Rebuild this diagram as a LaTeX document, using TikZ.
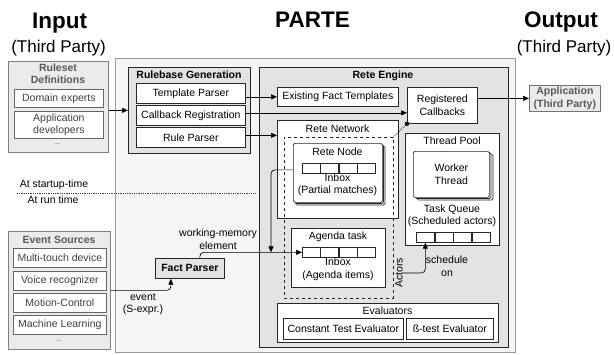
\documentclass[tikz,border=0pt]{standalone}
\usepackage{fontspec}
\setmainfont{Liberation Sans}
\usetikzlibrary{arrows.meta,calc}
\begin{document}
\begin{tikzpicture}[x=1pt,y=-1pt,
  txt/.style={font=\fontsize{10.5}{12.5}\selectfont, align=center, inner sep=0pt},
  btxt/.style={font=\fontsize{10.5}{12.5}\selectfont\bfseries, align=center, inner sep=0pt},
  bigtitle/.style={font=\fontsize{22.5}{24}\selectfont\bfseries, inner sep=0pt},
  subtitle/.style={font=\fontsize{17}{20}\selectfont, inner sep=0pt},
  wbox/.style={txt, draw=black!85, fill=white, line width=0.7pt, anchor=north west},
  gbox/.style={wbox, fill=black!11},
  obox/.style={txt, draw=black!50, fill=black!8, line width=0.7pt, anchor=north west},
  ibox/.style={txt, draw=black!60, fill=white, text=black!75, line width=0.7pt, anchor=north west},
  otitle/.style={btxt, text=black!65},
  dots/.style={font=\fontsize{7}{8}\selectfont, inner sep=0pt, text=black!70},
  layer/.style={draw=black!85, fill=white, line width=0.7pt, rounded corners=1.5pt},
  stackbox/.style={wbox, rounded corners=1.5pt},
  cell/.style={draw=black!85, fill=white, line width=0.7pt, minimum width=17.7pt, minimum height=10pt, inner sep=0pt, anchor=north west},
  arr/.style={-{Triangle[length=6pt,width=5pt]}, line width=0.7pt, rounded corners=4pt},
]
\useasboundingbox (0,0) rectangle (614,354);

% titles
\node[bigtitle, anchor=base] (tin) at (59.5,28) {Input};
\node[subtitle, anchor=base] (tinp) at (58.5,52.5) {(Third Party)};
\node[bigtitle, anchor=base] (tparte) at (312.5,27) {PARTE};
\node[bigtitle, anchor=base] (tout) at (561,27) {Output};
\node[subtitle, anchor=base] (toutp) at (564,52.5) {(Third Party)};

% ruleset definitions
\node[obox, minimum width=100pt, minimum height=91pt] (rs) at (8,61) {};
\node[otitle] (rst) at (58,73.5) {Ruleset\\Definitions};
\node[ibox, minimum width=89pt, minimum height=18pt] (de) at (14,89) {Domain experts};
\node[ibox, minimum width=89pt, minimum height=27pt] (ad) at (14,111) {Application\\developers};
\node[dots] (rsd) at (58,144) {...};

% event sources
\node[obox, minimum width=102pt, minimum height=118pt] (es) at (8,231) {};
\node[otitle] (est) at (59,240) {Event Sources};
\node[ibox, minimum width=93pt, minimum height=19pt] (mt) at (13,248) {Multi-touch device};
\node[ibox, minimum width=93pt, minimum height=19pt] (vr) at (13,271) {Voice recognizer};
\node[ibox, minimum width=93pt, minimum height=19pt] (mc) at (13,293) {Motion-Control};
\node[ibox, minimum width=93pt, minimum height=19pt] (ml) at (13,315) {Machine Learning};
\node[dots] (esd) at (59,341) {...};

% PARTE
\node[obox, draw=black!40, fill=black!4, minimum width=400pt, minimum height=294pt] (parte) at (115,58) {};

% startup / run time
\draw[densely dotted, line width=0.8pt, black!75] (17,193) -- (255,193);
\node[txt] (st) at (54,185) {At startup-time};
\node[txt] (rt) at (53,199.5) {At run time};

% rulebase generation
\node[gbox, minimum width=122pt, minimum height=86pt] (rb) at (128,67) {};
\node[btxt] (rbt) at (189,74.5) {Rulebase Generation};
\node[wbox, minimum width=109pt, minimum height=20pt] (tp) at (136,83) {Template Parser};
\node[wbox, minimum width=109pt, minimum height=20pt] (cb) at (136,105) {Callback Registration};
\node[wbox, minimum width=109pt, minimum height=20pt] (rp) at (136,127) {Rule Parser};

% rete engine
\node[gbox, minimum width=249pt, minimum height=280pt] (re) at (259,67) {};
\node[btxt] (ret) at (383,75.5) {Rete Engine};
\node[wbox, minimum width=121pt, minimum height=19pt] (eft) at (277,87) {Existing Fact Templates};
\node[wbox, minimum width=70pt, minimum height=36pt] (rc) at (407,87) {Registered\\Callbacks};

% rete network
\node[wbox, minimum width=121pt, minimum height=98pt] (rn) at (277,120) {};
\node[txt] (rnt) at (337.5,128.5) {Rete Network};
\draw[layer] (296,146) rectangle ++(89,59);
\draw[layer] (294.5,144.5) rectangle ++(89,59);
\node[stackbox, minimum width=89pt, minimum height=59pt] (rnode) at (293,143) {};
\node[txt] (rnodet) at (337.5,151.5) {Rete Node};
\node[cell] (r1) at (302,163) {};
\node[cell] (r2) at (r1.north east) {};
\node[cell] (r3) at (r2.north east) {};
\node[cell] (r4) at (r3.north east) {};
\node[txt] (rnin) at (337.5,185) {Inbox\\(Partial matches)};

% agenda task
\node[wbox, minimum width=94pt, minimum height=59pt] (ag) at (291,228) {};
\node[txt] (agt) at (338,236.5) {Agenda task};
\node[cell] (q1) at (302,247) {};
\node[cell] (q2) at (q1.north east) {};
\node[cell] (q3) at (q2.north east) {};
\node[cell] (q4) at (q3.north east) {};
\node[txt] (agin) at (338,269.5) {Inbox\\(Agenda items)};

% actors (dashed)
\node[draw=black!85, dashed, line width=0.7pt, minimum width=109pt, minimum height=161pt, anchor=north west, inner sep=0pt] (act) at (284,137) {};
\node[txt, rotate=90] (actors) at (399,273) {Actors};

% thread pool
\node[wbox, minimum width=94pt, minimum height=112pt] (tpool) at (405,133) {};
\node[txt] (tpt) at (452,140.5) {Thread Pool};
\draw[layer] (417,154) rectangle ++(76,46);
\draw[layer] (415,152.5) rectangle ++(76,46);
\node[stackbox, minimum width=76pt, minimum height=46pt] (wt) at (413,151) {Worker\\Thread};
\node[txt] (tq) at (452,216) {Task Queue\\(Scheduled actors)};
\node[cell, minimum width=18pt] (t1) at (416,232) {};
\node[cell, minimum width=18pt] (t2) at (t1.north east) {};
\node[cell, minimum width=18pt] (t3) at (t2.north east) {};
\node[cell, minimum width=18pt] (t4) at (t3.north east) {};

% evaluators
\node[wbox, minimum width=221pt, minimum height=39pt] (ev) at (277,303) {};
\node[txt] (evt) at (387.5,311) {Evaluators};
\node[wbox, minimum width=120pt, minimum height=21pt] (cte) at (283,318) {Constant Test Evaluator};
\node[wbox, minimum width=87pt, minimum height=21pt] (bte) at (406,318) {ß-test Evaluator};

% application
\node[obox, draw=black!55, minimum width=71pt, minimum height=26pt, btxt, text=black!65] (app) at (529,85) {Application\\(Third Party)};

% fact parser
\node[gbox, btxt, minimum width=69pt, minimum height=20pt] (fp) at (155,258) {Fact Parser};

% labels
\node[txt] (wme) at (218,239) {working-memory\\element};
\node[txt] (evl) at (143,304) {event\\(S-expr.)};
\node[txt] (sch) at (447,266) {schedule\\on};

% connectors
\draw[arr] (rs.east |- rb.west) -- (rb.west);
\draw[arr] (tp.east |- eft.west) -- (eft.west);
\draw[arr] ([yshift=2.5pt]cb.east) -- ([yshift=2.5pt]cb.east -| rc.west);
\draw[arr] ([yshift=2pt]rp.east) -- ([yshift=2pt]rp.east -| rn.west);
\draw[arr] (rc.east |- app.west) -- (app.west);
\fill (rc.south west) circle (2.2pt);
\draw[densely dotted, line width=0.7pt] (rc.south west) -- (act.north east);
\coordinate (jn) at ($(q1.west)+(-31,0)$);
\draw[arr] ([xshift=10pt]fp.north) |- (q1.west);
\draw[arr] ([yshift=3pt]rnode.west) -| (jn);
\draw[arr] (es.east) -| ([xshift=-19pt]fp.south);
\draw[arr] (actors.south) -| (t1.south);
\end{tikzpicture}
\end{document}
